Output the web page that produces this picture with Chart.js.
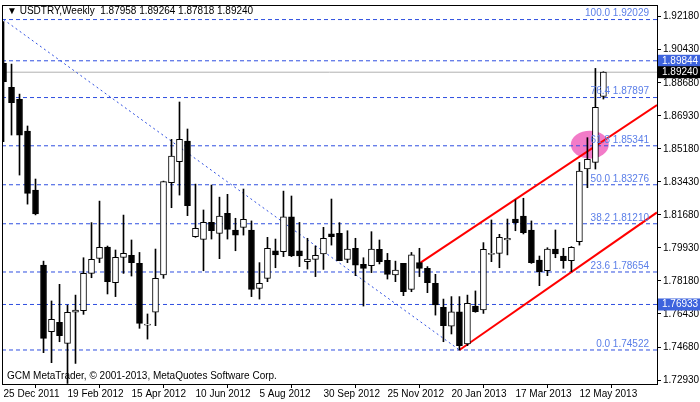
<!DOCTYPE html>
<html>
<head>
<meta charset="utf-8">
<script src="https://cdn.jsdelivr.net/npm/chart.js"></script>
<style>
  html, body { margin: 0; padding: 0; background: #fff; }
  #wrap { width: 700px; height: 402px; }
</style>
</head>
<body>
<div id="wrap"><canvas id="c"></canvas></div>
<script>
// weekly candles, USDTRY, from 25 Dec 2011
const opens  = [1.8971,1.8844,1.8780,1.8612,1.8300,1.7902,1.7549,1.7599,1.7487,1.7652,1.7660,1.7858,1.7938,1.7998,1.7809,1.7943,1.7954,1.7911,1.7584,1.7652,1.7850,1.8339,1.8450,1.8559,1.8052,1.8038,1.8128,1.8070,1.8176,1.8088,1.8102,1.8088,1.7779,1.7832,1.7977,1.7973,1.8158,1.7977,1.7920,1.7932,1.7961,1.8067,1.8070,1.7932,1.7991,1.7906,1.7899,1.7985,1.7927,1.7850,1.7911,1.7773,1.7915,1.7885,1.7806,1.7678,1.7579,1.7655,1.7484,1.7685,1.7664,1.7959,1.7964,1.8035,1.8146,1.8162,1.8088,1.7929,1.7872,1.7987,1.7950,1.7925,1.8026,1.8411,1.8446,1.87958];
const highs  = [1.9192,1.8967,1.8808,1.8639,1.8358,1.7923,1.7712,1.7800,1.7690,1.7743,1.7941,1.8127,1.8241,1.8003,1.7982,1.8167,1.8035,1.7969,1.7643,1.7987,1.8347,1.8568,1.8766,1.8623,1.8331,1.8194,1.8326,1.8262,1.8277,1.8150,1.8305,1.8136,1.7915,1.8049,1.8040,1.8294,1.8268,1.8128,1.8044,1.8003,1.8102,1.8252,1.8127,1.8084,1.8044,1.7941,1.8079,1.8035,1.7964,1.7923,1.7911,1.7969,1.7991,1.7894,1.7853,1.7722,1.7735,1.7735,1.7743,1.7765,1.8021,1.8141,1.8065,1.8146,1.8247,1.8256,1.8136,1.7950,1.7994,1.8088,1.7991,1.8000,1.8446,1.8577,1.8944,1.89264];
const lows   = [1.8556,1.8591,1.8379,1.8225,1.8168,1.7438,1.7385,1.7496,1.7275,1.7381,1.7641,1.7835,1.7915,1.7749,1.7735,1.7858,1.7844,1.7567,1.7510,1.7581,1.7832,1.8206,1.8273,1.8164,1.8049,1.7872,1.8040,1.7936,1.8040,1.7978,1.8061,1.7735,1.7722,1.7814,1.7888,1.7947,1.7947,1.7894,1.7881,1.7841,1.7879,1.8008,1.7925,1.7915,1.7846,1.7685,1.7862,1.7908,1.7828,1.7814,1.7740,1.7761,1.7841,1.7756,1.7637,1.7496,1.7537,1.7452,1.7475,1.7652,1.7646,1.7920,1.7888,1.7956,1.8084,1.8067,1.7911,1.7793,1.7846,1.7941,1.7885,1.7867,1.8008,1.8312,1.8411,1.87818];
const closes = [1.8874,1.8762,1.8591,1.8282,1.8173,1.7514,1.7615,1.7528,1.7652,1.7664,1.7858,1.7932,1.7996,1.7814,1.7943,1.7964,1.7915,1.7593,1.7584,1.7832,1.8344,1.8480,1.8568,1.8217,1.8097,1.8128,1.8084,1.8162,1.8091,1.8061,1.8144,1.7773,1.7805,1.7991,1.7956,1.8158,1.7950,1.7950,1.7934,1.7954,1.8044,1.8053,1.7925,1.7987,1.7902,1.7885,1.7987,1.7920,1.7853,1.7876,1.7761,1.7956,1.7885,1.7809,1.7691,1.7581,1.7655,1.7475,1.7699,1.7655,1.7985,1.7959,1.8049,1.8044,1.8127,1.8074,1.7915,1.7867,1.7987,1.7961,1.7925,1.7996,1.8400,1.8462,1.8738,1.89240];

const dateLabels = ['25 Dec 2011','19 Feb 2012','15 Apr 2012','10 Jun 2012','5 Aug 2012','30 Sep 2012','25 Nov 2012','20 Jan 2013','17 Mar 2013','12 May 2013'];
const priceTicks = [1.92180,1.90430,1.88680,1.86930,1.85180,1.83430,1.81680,1.79930,1.78180,1.76430,1.74680,1.72930];

const fibLevels = [100.0, 76.4, 61.8, 50.0, 38.2, 23.6, 0.0];
const fibPrices = [1.92029, 1.87897, 1.85341, 1.83276, 1.81210, 1.78654, 1.74522];
const extraLevels = [1.89844, 1.76933];
const lastPrice = 1.89240;

// trend lines: [x0, y0, x1, y1] in (week index, price)
const fibTrend   = [0, 1.92029, 57, 1.74522];
const channelLow = [57, 1.74522, 81.7, 1.8181];
const channelUp  = [52, 1.7911, 81.7, 1.8750];

const X_MIN = -0.19, X_MAX = 81.7;
const BLUE = '#2f4fe0';
const LABEL_BLUE = '#5a7ee8';
const FONT = '"Liberation Sans", Arial, sans-serif';

const idx = opens.map((_, i) => i);
const lineSet = (pts, color, width, dash) => ({
  type: 'line',
  data: [{ x: pts[0], y: pts[1] }, { x: pts[2], y: pts[3] }],
  borderColor: color, borderWidth: width, borderDash: dash,
  pointRadius: 0, fill: false
});
const hLine = (p, color, dash) => lineSet([X_MIN, p, X_MAX, p], color, 1, dash);

const datasets = [
  {
    type: 'bar',
    data: idx.map(i => ({ x: i, y: [Math.min(opens[i], closes[i]), Math.max(opens[i], closes[i])] })),
    backgroundColor: idx.map(i => closes[i] >= opens[i] ? '#ffffff' : '#000000'),
    borderColor: '#000', borderWidth: 1, borderSkipped: false,
    barThickness: 6, minBarLength: 1, grouped: false
  },
  {
    type: 'bar',
    data: idx.map(i => ({ x: i, y: [lows[i], highs[i]] })),
    backgroundColor: '#000', barThickness: 1, grouped: false
  },
  lineSet(channelUp, '#ff0000', 2, []),
  lineSet(channelLow, '#ff0000', 2, []),
  lineSet(fibTrend, BLUE, 1, [2, 3]),
  hLine(lastPrice, '#b0b0b0', []),
  ...extraLevels.map(p => hLine(p, BLUE, [4, 3])),
  ...fibPrices.map(p => hLine(p, BLUE, [4, 3]))
];

const overlay = {
  id: 'overlay',
  beforeDatasetsDraw(chart) {
    const { ctx, scales: { x, y } } = chart;
    // pink highlight
    ctx.save();
    ctx.fillStyle = 'rgba(240,100,190,0.85)';
    ctx.beginPath();
    ctx.ellipse(x.getPixelForValue(73.3), y.getPixelForValue(1.8540), 19, 14, 0, 0, Math.PI * 2);
    ctx.fill();
    ctx.restore();
  },
  afterDraw(chart) {
    const { ctx, chartArea: a, scales: { x, y } } = chart;
    ctx.save();
    // frame
    ctx.strokeStyle = '#000';
    ctx.lineWidth = 1;
    ctx.strokeRect(a.left + 0.5, a.top + 0.5, a.right - a.left, a.bottom - a.top);
    // fib labels
    ctx.font = '10px ' + FONT;
    ctx.fillStyle = LABEL_BLUE;
    ctx.textAlign = 'right';
    ctx.textBaseline = 'bottom';
    fibLevels.forEach((lv, i) => {
      ctx.fillText(lv.toFixed(1) + ' ' + fibPrices[i].toFixed(5), a.right - 8, y.getPixelForValue(fibPrices[i]) - 1);
    });
    // price boxes on axis
    const box = (p, bg) => {
      const py = y.getPixelForValue(p);
      ctx.fillStyle = bg;
      ctx.fillRect(a.right + 1, py - 6, 42, 12);
      ctx.fillStyle = '#fff';
      ctx.textAlign = 'left';
      ctx.textBaseline = 'middle';
      ctx.fillText(p.toFixed(5), a.right + 5, py);
    };
    extraLevels.forEach(p => box(p, '#3d63dd'));
    box(lastPrice, '#000');
    // header and footer
    ctx.fillStyle = '#000';
    ctx.textAlign = 'left';
    ctx.textBaseline = 'middle';
    ctx.fillText('\u25BC USDTRY,Weekly  ' + [opens[75], highs[75], lows[75], closes[75]].map(v => v.toFixed(5)).join(' '), a.left + 5, a.top + 6);
    ctx.fillText('GCM MetaTrader, \u00A9 2001-2013, MetaQuotes Software Corp.', a.left + 5, a.bottom - 8);
    ctx.restore();
  }
};

new Chart(document.getElementById('c'), {
  data: { datasets },
  options: {
    responsive: true,
    maintainAspectRatio: false,
    animation: false,
    layout: { padding: { top: 5, left: 2, right: 0, bottom: 0 } },
    plugins: { legend: { display: false }, tooltip: { enabled: false } },
    scales: {
      x: {
        type: 'linear', min: X_MIN, max: X_MAX, offset: false,
        grid: { display: true, drawOnChartArea: false, drawTicks: true, tickLength: 4, color: '#000' },
        border: { color: '#000' },
        afterBuildTicks: s => { s.ticks = dateLabels.map((_, i) => ({ value: i * 8 })); },
        afterFit: s => { s.height = 18; s.paddingLeft = 0; s.paddingRight = 0; },
        ticks: {
          autoSkip: false, maxRotation: 0, padding: 0, align: 'start',
          color: '#000', font: { size: 10, family: FONT },
          callback: v => dateLabels[v / 8]
        }
      },
      y: {
        position: 'right', min: 1.7272, max: 1.9280,
        grid: { display: true, drawOnChartArea: false, drawTicks: true, tickLength: 4, color: '#000' },
        border: { color: '#000' },
        afterBuildTicks: s => { s.ticks = priceTicks.map(v => ({ value: v })); },
        afterFit: s => { s.width = 43; s.paddingTop = 0; s.paddingBottom = 0; },
        ticks: {
          padding: 2, color: '#000', font: { size: 10, family: FONT },
          callback: v => v.toFixed(5)
        }
      }
    }
  },
  plugins: [overlay]
});
</script>
</body>
</html>
